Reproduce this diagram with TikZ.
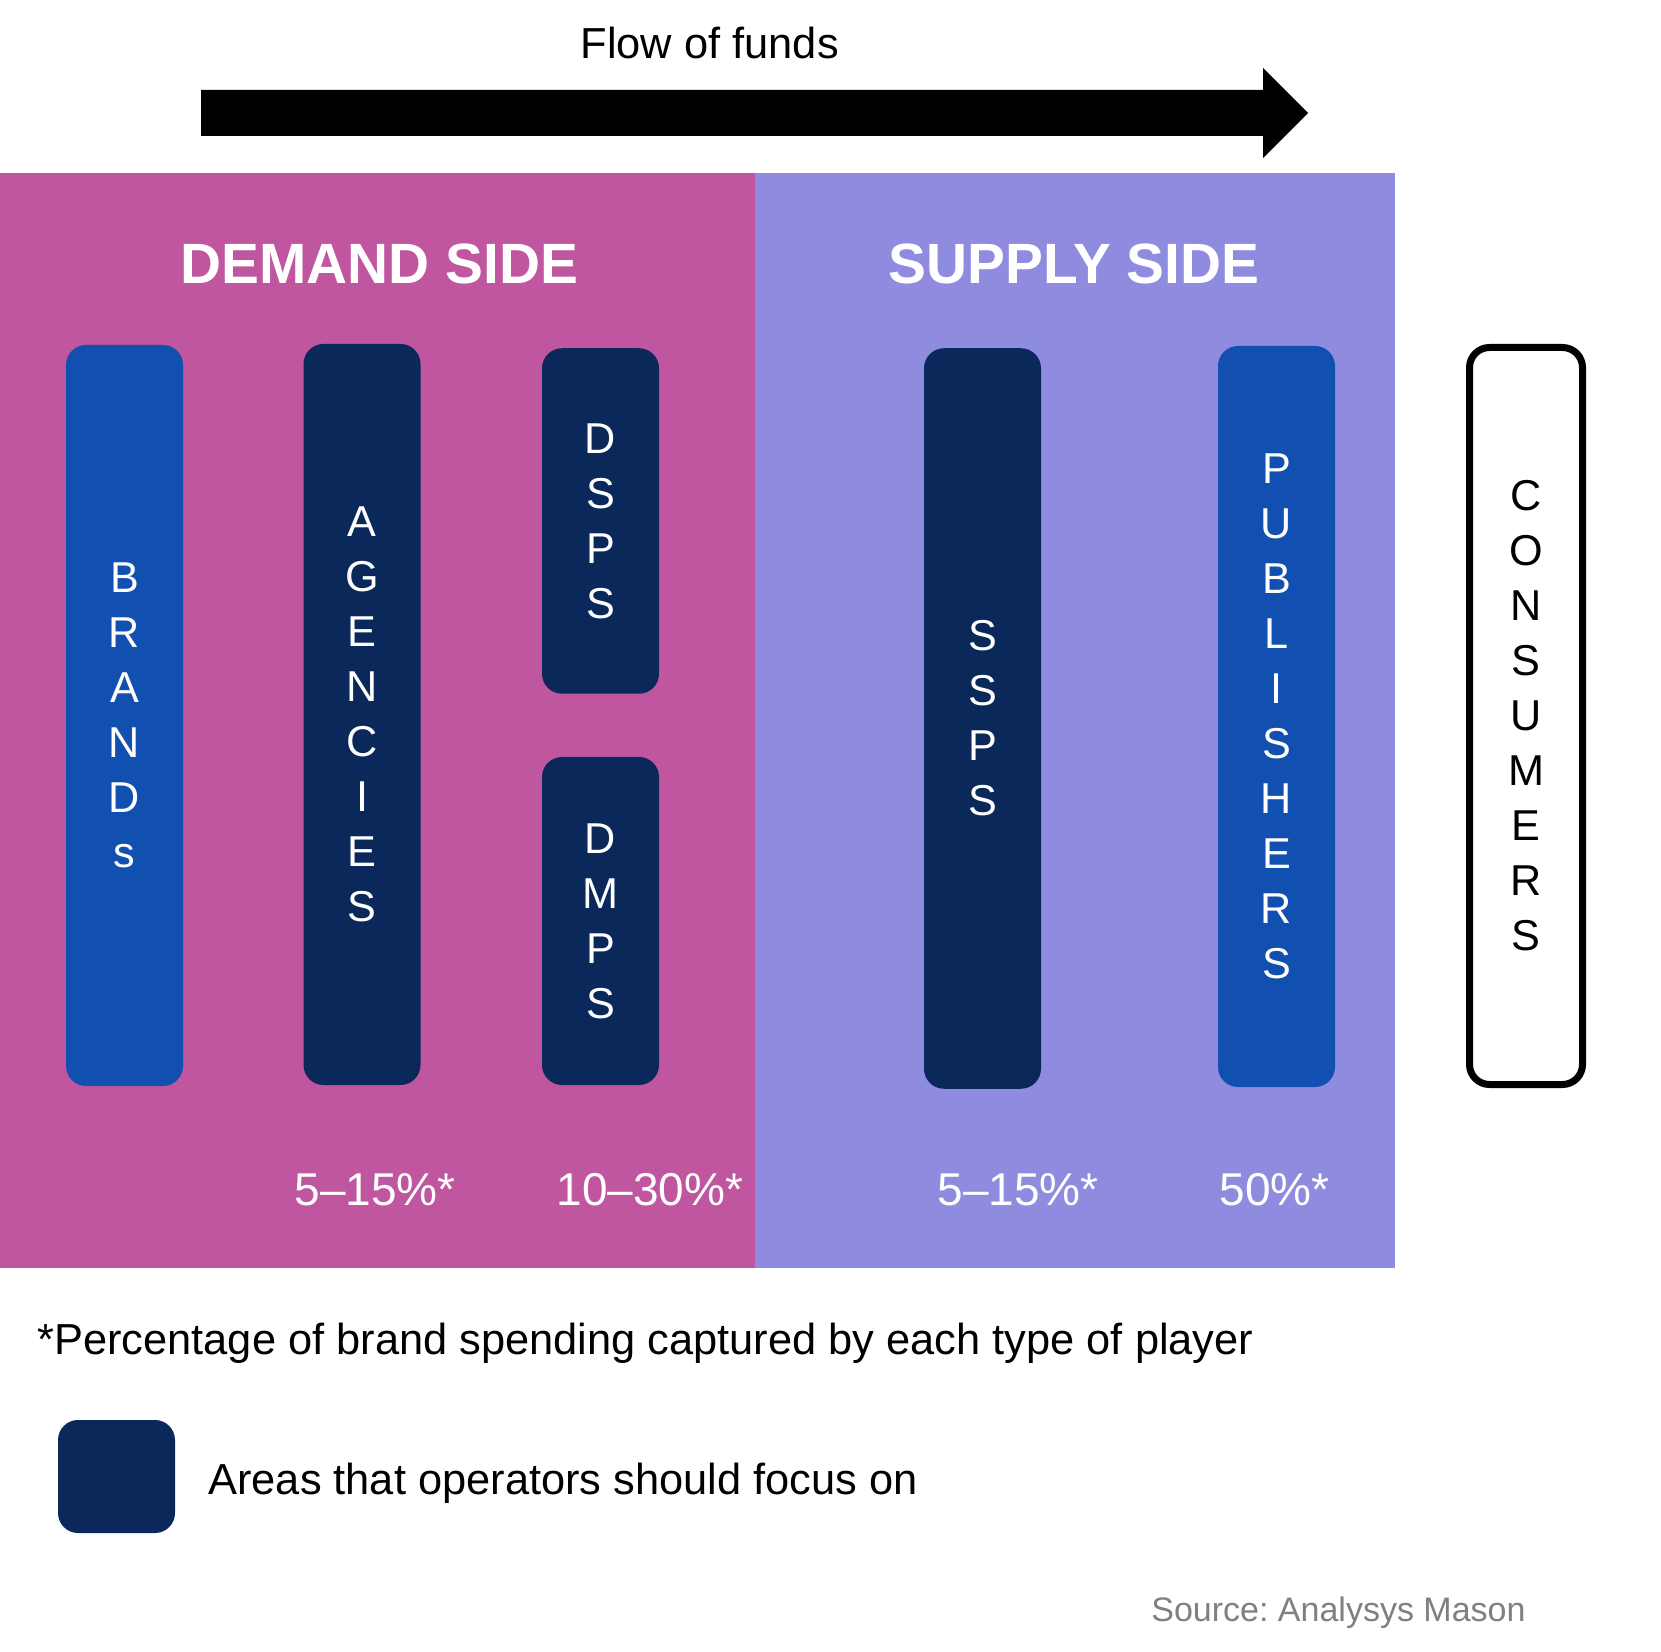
\documentclass[tikz,border=0pt]{standalone}
\usepackage{fontspec}
\setmainfont{Liberation Sans}
\usepackage{tikz}
\definecolor{demandpink}{HTML}{C056A0}
\definecolor{supplyviolet}{HTML}{8F8BDE}
\definecolor{brandblue}{HTML}{1150B0}
\definecolor{focusnavy}{HTML}{0A285A}
\definecolor{sourcegrey}{HTML}{808080}
\frenchspacing

\begin{document}
\begin{tikzpicture}[x=0.5pt,y=-0.5pt,
   player/.style={fill=#1,text=white,minimum width=58.5pt,rounded corners=10pt,inner sep=0pt,align=center,font=\fontsize{21.6}{27.5}\selectfont},
   heading/.style={text=white,inner sep=0pt,anchor=base,font=\fontsize{28.4}{34}\selectfont\bfseries},
   share/.style={text=white,inner sep=0pt,anchor=base,font=\fontsize{23}{27}\selectfont},
   plain/.style={inner sep=0pt,font=\fontsize{21.7}{26}\selectfont}]
\useasboundingbox (0,0) rectangle (1661,1652);
% flow arrow
\node[plain,anchor=base] (flowlabel) at (709.7,59) {Flow of funds};
\fill (201,90) -- (1263,90) -- (1263,68) -- (1308,113) -- (1263,158) -- (1263,136) -- (201,136) -- cycle;
% two sides
\fill[demandpink] (0,172.7) rectangle (755,1268);
\fill[supplyviolet] (755,172.7) rectangle (1395,1268);
\node[heading] (demand) at (379.5,284) {DEMAND SIDE};
\node[heading] (supply) at (1074,284) {SUPPLY SIDE};
% players
\foreach \name/\x/\y/\h/\col/\txt in %
{brands/124.5/715.5/370.5/brandblue/{B\\R\\A\\N\\D\\s},
 agencies/362/714.5/370.5/focusnavy/{A\\G\\E\\N\\C\\I\\E\\S},
 dsps/600.5/521/172.75/focusnavy/{D\\S\\P\\S},
 dmps/600.5/921/164/focusnavy/{D\\M\\P\\S},
 ssps/982.5/718.5/370.25/focusnavy/{S\\S\\P\\S},
 publishers/1276.5/716.5/370.5/brandblue/{P\\U\\B\\L\\I\\S\\H\\E\\R\\S}} {
   \node[player=\col,minimum height=\h pt] (\name) at (\x,\y) {\txt};
}
\node[player=white,text=black,draw=black,line width=3.5pt,minimum width=56.5pt,minimum height=368.5pt] (consumers) at (1526,716)
   {C\\O\\N\\S\\U\\M\\E\\R\\S};
% shares
\foreach \x/\p in {375/5–15\%*,650/10–30\%*,1018/5–15\%*,1274.5/50\%*} {
   \node[share] at (\x,1205) {\p};
}
% notes
\node[plain,anchor=base west] (footnote) at (37,1354) {*Percentage of brand spending captured by each type of player};
\node[fill=focusnavy,rounded corners=10pt,minimum width=58.5pt,minimum height=56.5pt,inner sep=0pt] (legendkey) at (116.5,1476.5) {};
\node[plain,anchor=base west] (legendtext) at (208,1494) {Areas that operators should focus on};
\node[inner sep=0pt,anchor=base west,text=sourcegrey,font=\fontsize{17}{22}\selectfont] (source) at (1151,1621) {Source: Analysys Mason};
\end{tikzpicture}
\end{document}
